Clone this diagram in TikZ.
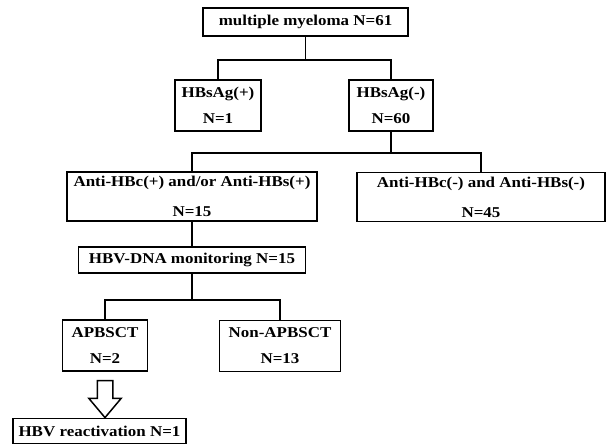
\documentclass[tikz,border=0pt]{standalone}
\usepackage{fontspec}
\setmainfont{Liberation Serif}[FakeStretch=1.13]
\usetikzlibrary{shapes.arrows}

\begin{document}
\begin{tikzpicture}[x=1pt, y=-1pt,
    box/.style={rectangle, draw, line width=1.5pt, inner sep=0pt, align=center, font=\fontsize{15}{18}\selectfont\bfseries},
    link/.style={line width=1.6pt},
    bigarrow/.style={single arrow, draw, line width=1.5pt, fill=white, rotate=-90, minimum height=37pt, minimum width=0pt, inner xsep=0pt, inner ysep=7pt, single arrow head extend=8.5pt, single arrow tip angle=80}
]
\useasboundingbox (0,0) rectangle (609,445);

% Boxes
\node[box, minimum width=205pt, minimum height=28pt] (mm) at (305.5,22) {multiple myeloma N=61};
\node[box, minimum width=86pt, minimum height=51pt] (hbp) at (218,105.5) {HBsAg(+)\\[8pt]N=1};
\node[box, minimum width=84pt, minimum height=51pt] (hbn) at (391,105.5) {HBsAg(-)\\[8pt]N=60};
\node[box, minimum width=250pt, minimum height=49pt] (antip) at (192,196.5) {Anti-HBc(+) and/or Anti-HBs(+)\\[12pt]N=15};
\node[box, minimum width=248pt, minimum height=49pt] (antin) at (481,197) {Anti-HBc(-) and Anti-HBs(-)\\[12pt]N=45};
\node[box, minimum width=227pt, minimum height=26pt] (dna) at (192,260) {HBV-DNA monitoring N=15};
\node[box, minimum width=85pt, minimum height=51pt] (apb) at (105,345.5) {APBSCT\\[8pt]N=2};
\node[box, minimum width=121pt, minimum height=51pt] (napb) at (280,346) {Non-APBSCT\\[8pt]N=13};
\node[box, minimum width=173pt, minimum height=25pt] (react) at (99.5,431) {HBV reactivation N=1};

% Junctions
\coordinate (j1) at (305.5,60);
\coordinate (j2) at (391,153);
\coordinate (j3) at (192,300);

% Connections
\draw[link] (mm.south) -- (j1);
\draw[link] (hbp.north) |- (j1) -| (hbn.north);
\draw[link] (hbn.south) -- (j2);
\draw[link] (antip.north) |- (j2) -| (antin.north);
\draw[link] (antip.south) -- (dna.north);
\draw[link] (dna.south) -- (j3);
\draw[link] (apb.north) |- (j3) -| (napb.north);
\node[bigarrow] (arr) at (105,394.5) {};
\end{tikzpicture}
\end{document}
